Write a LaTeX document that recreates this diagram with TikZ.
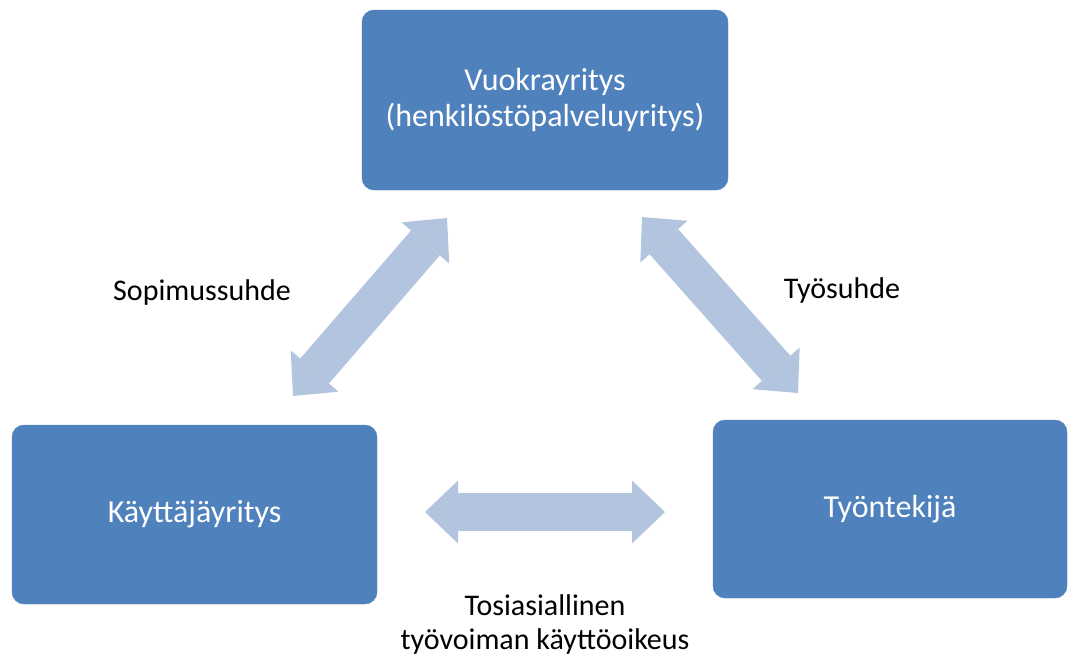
\documentclass[tikz,border=0pt]{standalone}
\usepackage{fontspec}
\setmainfont{Carlito}
\usetikzlibrary{arrows.meta}
\definecolor{boxblue}{RGB}{79,129,189}
\definecolor{linkblue}{RGB}{179,196,222}

\begin{document}
\begin{tikzpicture}[x=1pt,y=-1pt,
  party/.style={fill=boxblue, draw=boxblue, rounded corners=12pt, text=white,
    align=center, inner sep=0pt, font=\fontsize{32}{36}\selectfont},
  fatend/.tip={Triangle[length=33pt,width=63pt,line width=0pt]},
  link/.style={draw=linkblue, line width=38pt, fatend-fatend},
  note/.style={align=center, font=\fontsize{30}{34}\selectfont}]
\useasboundingbox (0,0) rectangle (1074,662);
% the three parties
\node [party, minimum width=366pt, minimum height=180pt] (vuokra) at (545,100)
  {Vuokrayritys\\(henkilöstöpalveluyritys)};
\node [party, minimum width=365pt, minimum height=179pt] (kayttaja) at (194.5,514.5)
  {Käyttäjäyritys};
\node [party, minimum width=354pt, minimum height=178pt] (tyontekija) at (890,509)
  {Työntekijä};
% arrow ends
\coordinate (sl) at (293,396);
\coordinate (sr) at (447,218);
\coordinate (tl) at (642,217);
\coordinate (tr) at (798,393);
\coordinate (kl) at (425,512);
\coordinate (kr) at (665,512);
\draw [link] (sl) -- (sr);
\draw [link] (tl) -- (tr);
\draw [link] (kl) -- (kr);
% relations
\node [note] (sopimus) at (202,292) {Sopimussuhde};
\node [note] (tyosuhde) at (842,290) {Työsuhde};
\node [note] (tosi) at (545,624) {Tosiasiallinen\\työvoiman käyttöoikeus};
\end{tikzpicture}
\end{document}
